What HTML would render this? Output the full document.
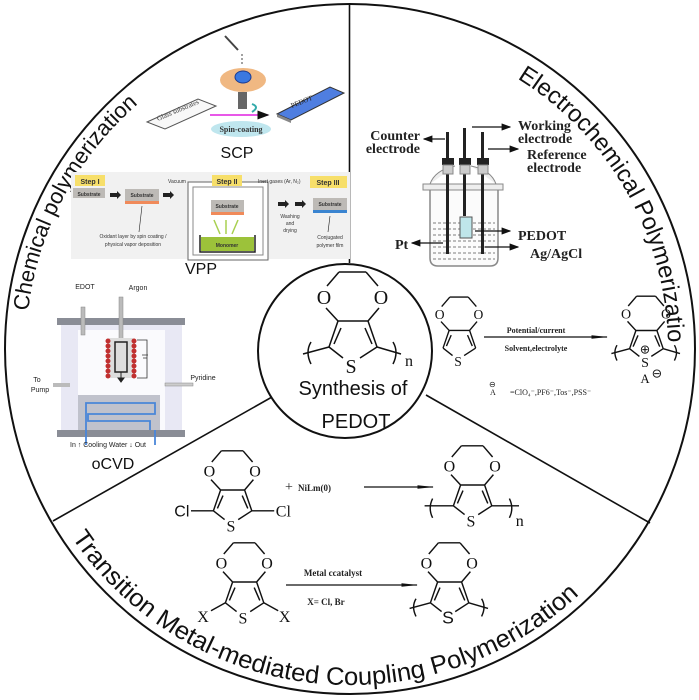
<!DOCTYPE html>
<html><head><meta charset="utf-8"><style>
html,body{margin:0;padding:0;background:#fff;}
svg{display:block;}
.s{font-family:"Liberation Serif",serif;}
.a{font-family:"Liberation Sans",sans-serif;}
</style></head><body>
<svg width="699" height="700" viewBox="0 0 699 700" xmlns="http://www.w3.org/2000/svg">
<defs>
<path id="arcL" d="M 26 349 A 324 324 0 0 1 350 25"/>
<path id="arcR" d="M 350 31 A 318 318 0 0 1 668 349"/>
<path id="arcB" d="M 14 349 A 336 336 0 0 0 686 349"/>
<marker id="ah" markerWidth="8" markerHeight="6" refX="7" refY="3" orient="auto"><path d="M0,0 L8,3 L0,6 Z" fill="#111"/></marker>
<marker id="ahl" markerWidth="14" markerHeight="6" refX="13" refY="3" orient="auto"><path d="M0,1.5 L14,3 L0,4.5 Z" fill="#111"/></marker>
</defs>
<circle cx="350" cy="349" r="345" fill="#fff" stroke="#111" stroke-width="2"/>
<line x1="349.5" y1="4" x2="349.5" y2="263" stroke="#111" stroke-width="1.6"/>
<line x1="272" y1="397" x2="53" y2="521" stroke="#111" stroke-width="1.6"/>
<line x1="426" y1="395" x2="650" y2="523" stroke="#111" stroke-width="1.6"/>
<circle cx="345" cy="351" r="87" fill="#fff" stroke="#111" stroke-width="2"/>

<text class="a" font-size="22" fill="#111"><textPath href="#arcL" startOffset="38" textLength="240" lengthAdjust="spacingAndGlyphs">Chemical polymerization</textPath></text>
<text class="a" font-size="24" fill="#111"><textPath href="#arcR" startOffset="176" textLength="330" lengthAdjust="spacingAndGlyphs">Electrochemical Polymerization</textPath></text>
<text class="a" font-size="25" fill="#111"><textPath href="#arcB" startOffset="200" textLength="580" lengthAdjust="spacingAndGlyphs">Transition Metal-mediated Coupling Polymerization</textPath></text>

<!-- SCP -->
<line x1="225" y1="36" x2="238" y2="50" stroke="#444" stroke-width="2"/>
<line x1="242" y1="54" x2="242" y2="64" stroke="#444" stroke-dasharray="2,2"/>
<ellipse cx="243" cy="80" rx="23" ry="12" fill="#f0b882"/>
<ellipse cx="243" cy="77" rx="8" ry="6" fill="#3a78e0" stroke="#1a3a90"/>
<rect x="238" y="92" width="9" height="17" fill="#666"/>
<path d="M252,104 q8,3 0,8" fill="none" stroke="#3aa" stroke-width="2"/>
<polygon points="147,122 198,99 216,106 165,129" fill="#f8f8f8" stroke="#555"/>
<text class="s" font-size="7" fill="#444" transform="translate(158,121) rotate(-23)">Glass substrates</text>
<line x1="210" y1="115" x2="268" y2="115" stroke="#e020e0" stroke-width="1.5" marker-end="url(#ah)"/>
<polygon points="277,114 330,87 344,93 291,120" fill="#4f7ee0" stroke="#333"/>
<polygon points="277,114 291,120 291,123 277,117" fill="#888"/>
<text class="s" font-size="7" fill="#222" transform="translate(292,108) rotate(-22)">PEDOT</text>
<ellipse cx="241" cy="129" rx="30" ry="8" fill="#bfe6ee"/>
<text class="s" x="241" y="132" font-size="8" font-weight="bold" text-anchor="middle" fill="#333">Spin-coating</text>
<text class="a" x="237" y="158" font-size="16" text-anchor="middle" fill="#111">SCP</text>

<!-- VPP -->
<rect x="71" y="172" width="279" height="87" fill="#f1f1f1"/>
<g class="a" font-weight="bold" fill="#333">
<rect x="75" y="175" width="30" height="11" fill="#f7df6a"/><text x="90" y="184" font-size="7" text-anchor="middle">Step I</text>
<rect x="73" y="188" width="32" height="10" fill="#bdbab6"/><text x="89" y="196" font-size="5" text-anchor="middle">Substrate</text>
<rect x="125" y="189" width="34" height="12" fill="#bdbab6"/><rect x="125" y="201" width="34" height="3" fill="#f08a5a"/><text x="142" y="197" font-size="5" text-anchor="middle">Substrate</text>
<path d="M110,193 h7 v-2 l4,4 l-4,4 v-2 h-7z" fill="#222"/>
<path d="M163,193 h7 v-2 l4,4 l-4,4 v-2 h-7z" fill="#222"/>
<rect x="188" y="182" width="80" height="78" fill="#fff" stroke="#666"/>
<rect x="193" y="187" width="70" height="68" fill="#fff" stroke="#888"/>
<rect x="212" y="175" width="30" height="11" fill="#f7df6a"/><text x="227" y="184" font-size="7" text-anchor="middle">Step II</text>
<rect x="211" y="200" width="33" height="12" fill="#bdbab6"/><rect x="211" y="212" width="33" height="3" fill="#f08a5a"/><text x="227" y="208" font-size="5" text-anchor="middle">Substrate</text>
<path d="M200,235 v17 h55 v-17" fill="none" stroke="#222" stroke-width="1.5"/>
<rect x="201" y="237" width="53" height="14" fill="#9cc23a"/><text x="227" y="247" font-size="5" text-anchor="middle">Monomer</text>
<path d="M226,234 v-14 M220,234 l-6,-14 M232,234 l6,-14" stroke="#a8d050" stroke-width="1.5"/>
<text x="168" y="183" font-size="5" font-weight="normal">Vacuum</text>
<text x="258" y="183" font-size="5" font-weight="normal">Inert gases (Ar, N₂)</text>
<rect x="310" y="176" width="37" height="12" fill="#f7df6a"/><text x="328" y="185" font-size="7" text-anchor="middle">Step III</text>
<rect x="313" y="198" width="34" height="12" fill="#bdbab6"/><rect x="313" y="210" width="34" height="3" fill="#3a84d0"/><text x="330" y="206" font-size="5" text-anchor="middle">Substrate</text>
<path d="M278,202 h7 v-2 l4,4 l-4,4 v-2 h-7z" fill="#222"/>
<path d="M295,202 h7 v-2 l4,4 l-4,4 v-2 h-7z" fill="#222"/>
<text x="290" y="218" font-size="5" text-anchor="middle" font-weight="normal">Washing</text>
<text x="290" y="225" font-size="5" text-anchor="middle" font-weight="normal">and</text>
<text x="290" y="232" font-size="5" text-anchor="middle" font-weight="normal">drying</text>
<text x="133" y="238" font-size="5" text-anchor="middle" font-weight="normal">Oxidant layer by spin coating /</text>
<text x="133" y="246" font-size="5" text-anchor="middle" font-weight="normal">physical vapor deposition</text>
<line x1="142" y1="206" x2="139" y2="232" stroke="#222" stroke-width="0.6"/>
<text x="330" y="239" font-size="5" text-anchor="middle" font-weight="normal">Conjugated</text>
<text x="330" y="247" font-size="5" text-anchor="middle" font-weight="normal">polymer film</text>
<line x1="330" y1="216" x2="328" y2="232" stroke="#222" stroke-width="0.6"/>
</g>
<text class="a" x="201" y="274" font-size="16" text-anchor="middle" fill="#111">VPP</text>

<!-- oCVD -->
<rect x="61" y="325" width="121" height="105" fill="#e8e8f4"/>
<rect x="78" y="330" width="87" height="100" fill="#fafafd"/>
<rect x="57" y="318" width="128" height="7" fill="#8a8d96"/>
<rect x="57" y="430" width="128" height="7" fill="#8a8d96"/>
<rect x="78" y="395" width="82" height="35" fill="#c0c2cc"/>
<path d="M86,445 V403 H155 V414 H88 V421 H150 V430" fill="none" stroke="#4a86d8" stroke-width="1.8"/>
<path d="M155,430 V445" stroke="#4a86d8" stroke-width="1.8"/>
<rect x="81" y="307" width="4" height="28" fill="#bbb" stroke="#888" stroke-width="0.5"/>
<rect x="119" y="297" width="4" height="45" fill="#bbb" stroke="#888" stroke-width="0.5"/>
<rect x="109" y="338" width="24" height="40" fill="#ddd"/>
<g fill="#c03030"><circle cx="108" cy="341" r="2.5"/><circle cx="108" cy="346" r="2.5"/><circle cx="108" cy="351" r="2.5"/><circle cx="108" cy="356" r="2.5"/><circle cx="108" cy="361" r="2.5"/><circle cx="108" cy="366" r="2.5"/><circle cx="108" cy="371" r="2.5"/><circle cx="108" cy="376" r="2.5"/><circle cx="134" cy="341" r="2.5"/><circle cx="134" cy="346" r="2.5"/><circle cx="134" cy="351" r="2.5"/><circle cx="134" cy="356" r="2.5"/><circle cx="134" cy="361" r="2.5"/><circle cx="134" cy="366" r="2.5"/><circle cx="134" cy="371" r="2.5"/><circle cx="134" cy="376" r="2.5"/></g>
<rect x="115" y="342" width="12" height="30" fill="none" stroke="#222" stroke-width="1.5"/>
<path d="M121,372 v8 M118,378 l3,4 l3,-4z" stroke="#222" fill="#222"/>
<path d="M137,340 h10 v38 h-10 M142,355 h6 M143,358 h4" fill="none" stroke="#333" stroke-width="0.8"/>
<rect x="53" y="383" width="17" height="4" fill="#bbb"/>
<rect x="165" y="383" width="28" height="3" fill="#ccc" stroke="#888" stroke-width="0.5"/>
<g class="a" font-size="7" fill="#222">
<text x="85" y="289" text-anchor="middle">EDOT</text><text x="138" y="290" text-anchor="middle">Argon</text>
<text x="37" y="382" text-anchor="middle">To</text><text x="40" y="392" text-anchor="middle">Pump</text>
<text x="203" y="380" text-anchor="middle">Pyridine</text>
<text x="70" y="447">In  ↑  Cooling Water  ↓  Out</text>
</g>
<text class="a" x="113" y="469" font-size="16" text-anchor="middle" fill="#111">oCVD</text>

<!-- Electrochemical cell -->
<path d="M430,190 V258 q0,8 8,8 H490 q8,0 8,-8 V190" fill="#fbfbfb" stroke="#888" stroke-width="1.5"/>
<path d="M423,184 H503 V190 H423Z M430,184 q5,-14 25,-18 M496,184 q-5,-14 -25,-18" fill="#eee" stroke="#888"/>
<g stroke="#555" stroke-dasharray="3,2" stroke-width="0.8"><line x1="433" y1="223" x2="495" y2="223"/><line x1="433" y1="229" x2="495" y2="229"/><line x1="433" y1="235" x2="495" y2="235"/><line x1="433" y1="241" x2="495" y2="241"/><line x1="433" y1="247" x2="495" y2="247"/><line x1="433" y1="253" x2="495" y2="253"/><line x1="433" y1="259" x2="495" y2="259"/></g>
<g fill="#222"><rect x="446" y="132" width="3" height="122"/><rect x="463" y="128" width="3" height="88"/><rect x="481" y="132" width="3" height="122"/>
<rect x="442" y="158" width="12" height="7"/><rect x="459" y="158" width="12" height="7"/><rect x="477" y="158" width="12" height="7"/></g>
<g fill="#ccc" stroke="#888"><rect x="443" y="165" width="10" height="9"/><rect x="460" y="165" width="10" height="9"/><rect x="478" y="165" width="10" height="9"/></g>
<rect x="460" y="217" width="12" height="21" fill="#bfe6ea" stroke="#555"/>
<g stroke="#111" stroke-width="1.2"><line x1="445" y1="139" x2="424" y2="139" marker-end="url(#ah)"/><line x1="472" y1="127" x2="510" y2="127" marker-end="url(#ah)"/><line x1="488" y1="149" x2="518" y2="149" marker-end="url(#ah)"/><line x1="475" y1="231" x2="510" y2="231" marker-end="url(#ah)"/><line x1="485" y1="247" x2="518" y2="247" marker-end="url(#ah)"/><line x1="443" y1="243" x2="412" y2="243" marker-end="url(#ah)"/></g>
<g class="s" font-weight="bold" font-size="14" fill="#222">
<text x="420" y="140" text-anchor="end">Counter</text><text x="420" y="153" text-anchor="end">electrode</text>
<text x="518" y="130">Working</text><text x="518" y="143">electrode</text>
<text x="527" y="159">Reference</text><text x="527" y="172">electrode</text>
<text x="518" y="240">PEDOT</text><text x="530" y="258">Ag/AgCl</text>
<text x="395" y="249">Pt</text>
</g>

<!-- Center PEDOT -->
<g transform="translate(351,366)" fill="none" stroke="#111" stroke-width="1.5">
<path d="M-12,-94 L15,-94 M-12,-94 L-24,-80 M15,-94 L27,-80 M-25,-58 L-13,-45 M28,-58 L17,-45 M-13,-45 L17,-45 M-13,-45 L-22,-19 M17,-45 L26,-19 M-22,-19 L-8,-8 M26,-19 L9,-8 M-10,-38 L-17,-22 M14,-38 L21,-22 M-22,-19 L-48,-12 M26,-19 L50,-12"/>
<path d="M-40,-24 q-6,10 0,22 M42,-24 q6,10 0,22"/>
<text class="s" x="-27" y="-62" font-size="20" text-anchor="middle" fill="#111" stroke="none">O</text>
<text class="s" x="30" y="-62" font-size="20" text-anchor="middle" fill="#111" stroke="none">O</text>
<text class="s" x="0" y="7" font-size="20" text-anchor="middle" fill="#111" stroke="none">S</text>
<text class="s" x="54" y="0" font-size="16" fill="#111" stroke="none">n</text>
</g>
<text class="a" x="353" y="395" font-size="20" text-anchor="middle" fill="#111">Synthesis of</text>
<text class="a" x="356" y="428" font-size="20" text-anchor="middle" fill="#111">PEDOT</text>

<!-- Right monomer -->
<g transform="translate(458,361) scale(0.68)" fill="none" stroke="#111" stroke-width="2">
<path d="M-12,-94 L15,-94 M-12,-94 L-24,-80 M15,-94 L27,-80 M-25,-58 L-13,-45 M28,-58 L17,-45 M-13,-45 L17,-45 M-13,-45 L-22,-19 M17,-45 L26,-19 M-22,-19 L-8,-8 M26,-19 L9,-8 M-10,-38 L-17,-22 M14,-38 L21,-22"/>
<text class="s" x="-27" y="-62" font-size="20" text-anchor="middle" fill="#111" stroke="none">O</text>
<text class="s" x="30" y="-62" font-size="20" text-anchor="middle" fill="#111" stroke="none">O</text>
<text class="s" x="0" y="7" font-size="20" text-anchor="middle" fill="#111" stroke="none">S</text>
</g>
<line x1="484" y1="337" x2="607" y2="337" stroke="#111" stroke-width="1.2" marker-end="url(#ahl)"/>
<text class="s" x="536" y="333" font-size="8" font-weight="bold" text-anchor="middle" fill="#222">Potential/current</text>
<text class="s" x="536" y="351" font-size="8" font-weight="bold" text-anchor="middle" fill="#222">Solvent,electrolyte</text>
<text class="s" x="490" y="395" font-size="8" fill="#222">A</text><text class="s" x="489" y="387" font-size="8" fill="#222">⊖</text>
<text class="s" x="510" y="395" font-size="8" fill="#222">=ClO₄⁻,PF6⁻,Tos⁻,PSS⁻</text>
<g transform="translate(645,362) scale(0.7)" fill="none" stroke="#111" stroke-width="2">
<path d="M-12,-94 L15,-94 M-12,-94 L-24,-80 M15,-94 L27,-80 M-25,-58 L-13,-45 M28,-58 L17,-45 M-13,-45 L17,-45 M-13,-45 L-22,-19 M17,-45 L26,-19 M-22,-19 L-8,-8 M26,-19 L9,-8 M-10,-38 L-17,-22 M14,-38 L21,-22 M-22,-19 L-48,-12 M26,-19 L50,-12"/>
<path d="M-40,-24 q-6,10 0,22 M42,-24 q6,10 0,22"/>
<text class="s" x="-27" y="-62" font-size="20" text-anchor="middle" fill="#111" stroke="none">O</text>
<text class="s" x="30" y="-62" font-size="20" text-anchor="middle" fill="#111" stroke="none">O</text>
<text class="s" x="0" y="7" font-size="20" text-anchor="middle" fill="#111" stroke="none">S</text>
<text class="s" x="0" y="-12" font-size="18" text-anchor="middle" fill="#111" stroke="none">⊕</text>
<text class="s" x="0" y="30" font-size="18" text-anchor="middle" fill="#111" stroke="none">A</text>
<text class="s" x="17" y="22" font-size="18" text-anchor="middle" fill="#111" stroke="none">⊖</text>
</g>

<!-- Row 1 -->
<g transform="translate(231,526) scale(0.8)" fill="none" stroke="#111" stroke-width="1.8">
<path d="M-12,-94 L15,-94 M-12,-94 L-24,-80 M15,-94 L27,-80 M-25,-58 L-13,-45 M28,-58 L17,-45 M-13,-45 L17,-45 M-13,-45 L-22,-19 M17,-45 L26,-19 M-22,-19 L-8,-8 M26,-19 L9,-8 M-10,-38 L-17,-22 M14,-38 L21,-22 M-22,-19 L-50,-19 M26,-19 L54,-19"/>
<text class="s" x="-27" y="-62" font-size="20" text-anchor="middle" fill="#111" stroke="none">O</text>
<text class="s" x="30" y="-62" font-size="20" text-anchor="middle" fill="#111" stroke="none">O</text>
<text class="s" x="0" y="7" font-size="20" text-anchor="middle" fill="#111" stroke="none">S</text>
<text class="a" x="-52" y="-12" font-size="20" text-anchor="end" fill="#111" stroke="none">Cl</text>
<text class="s" x="56" y="-12" font-size="20" fill="#111" stroke="none">Cl</text>
</g>
<text class="s" x="285" y="491" font-size="14" fill="#222">+</text>
<text class="s" x="298" y="491" font-size="9" font-weight="bold" fill="#222">NiLm(0)</text>
<line x1="364" y1="487" x2="433" y2="487" stroke="#111" stroke-width="1.2" marker-end="url(#ahl)"/>
<g transform="translate(471,521) scale(0.8)" fill="none" stroke="#111" stroke-width="1.8">
<path d="M-12,-94 L15,-94 M-12,-94 L-24,-80 M15,-94 L27,-80 M-25,-58 L-13,-45 M28,-58 L17,-45 M-13,-45 L17,-45 M-13,-45 L-22,-19 M17,-45 L26,-19 M-22,-19 L-8,-8 M26,-19 L9,-8 M-10,-38 L-17,-22 M14,-38 L21,-22 M-22,-19 L-58,-19 M26,-19 L60,-19"/>
<path d="M-48,-28 q-6,12 0,24 M48,-28 q6,12 0,24"/>
<text class="s" x="-27" y="-62" font-size="20" text-anchor="middle" fill="#111" stroke="none">O</text>
<text class="s" x="30" y="-62" font-size="20" text-anchor="middle" fill="#111" stroke="none">O</text>
<text class="s" x="0" y="7" font-size="20" text-anchor="middle" fill="#111" stroke="none">S</text>
<text class="s" x="56" y="6" font-size="20" fill="#111" stroke="none">n</text>
</g>

<!-- Row 2 -->
<g transform="translate(243,618) scale(0.8)" fill="none" stroke="#111" stroke-width="1.8">
<path d="M-12,-94 L15,-94 M-12,-94 L-24,-80 M15,-94 L27,-80 M-25,-58 L-13,-45 M28,-58 L17,-45 M-13,-45 L17,-45 M-13,-45 L-22,-19 M17,-45 L26,-19 M-22,-19 L-8,-8 M26,-19 L9,-8 M-10,-38 L-17,-22 M14,-38 L21,-22 M-22,-19 L-40,-9 M26,-19 L44,-9"/>
<text class="s" x="-27" y="-62" font-size="20" text-anchor="middle" fill="#111" stroke="none">O</text>
<text class="s" x="30" y="-62" font-size="20" text-anchor="middle" fill="#111" stroke="none">O</text>
<text class="s" x="0" y="7" font-size="20" text-anchor="middle" fill="#111" stroke="none">S</text>
<text class="s" x="-50" y="5" font-size="20" text-anchor="middle" fill="#111" stroke="none">X</text>
<text class="s" x="52" y="5" font-size="20" text-anchor="middle" fill="#111" stroke="none">X</text>
</g>
<line x1="286" y1="585" x2="417" y2="585" stroke="#111" stroke-width="1.2" marker-end="url(#ahl)"/>
<text class="s" x="333" y="576" font-size="9" font-weight="bold" text-anchor="middle" fill="#222">Metal ccatalyst</text>
<text class="s" x="326" y="605" font-size="9" font-weight="bold" text-anchor="middle" fill="#222">X= Cl, Br</text>
<g transform="translate(448,618) scale(0.8)" fill="none" stroke="#111" stroke-width="1.8">
<path d="M-12,-94 L15,-94 M-12,-94 L-24,-80 M15,-94 L27,-80 M-25,-58 L-13,-45 M28,-58 L17,-45 M-13,-45 L17,-45 M-13,-45 L-22,-19 M17,-45 L26,-19 M-22,-19 L-8,-8 M26,-19 L9,-8 M-10,-38 L-17,-22 M14,-38 L21,-22 M-22,-19 L-48,-12 M26,-19 L50,-12"/>
<path d="M-40,-24 q-6,10 0,22 M42,-24 q6,10 0,22"/>
<text class="s" x="-27" y="-62" font-size="20" text-anchor="middle" fill="#111" stroke="none">O</text>
<text class="s" x="30" y="-62" font-size="20" text-anchor="middle" fill="#111" stroke="none">O</text>
<text class="a" x="0" y="7" font-size="22" text-anchor="middle" fill="#111" stroke="none">S</text>
</g>
</svg>
</body></html>
